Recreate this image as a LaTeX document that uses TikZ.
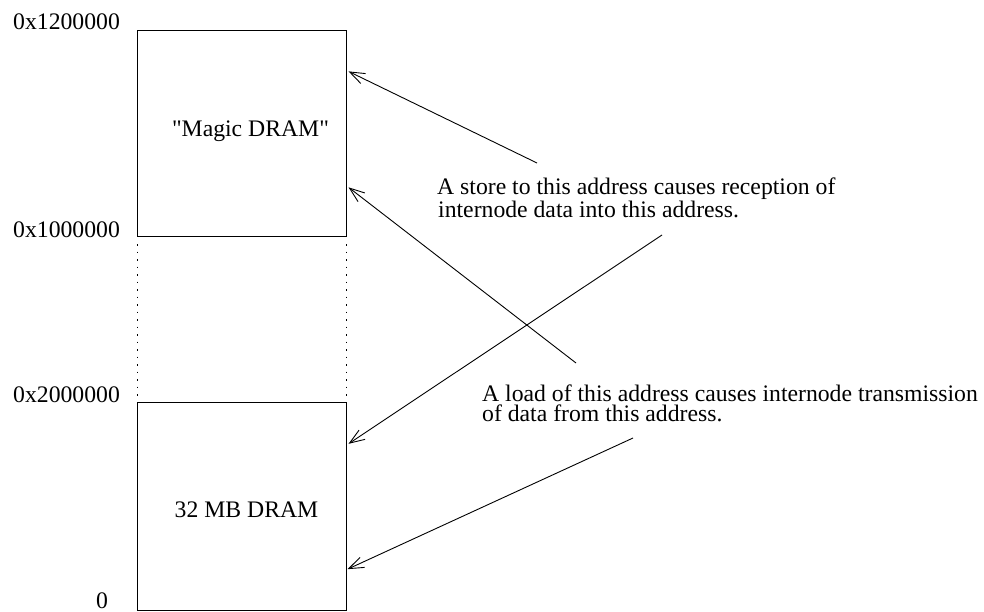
\documentclass[tikz,border=0pt]{standalone}
\usepackage{fontspec}
\setmainfont{Liberation Serif}
% same face without the TeX input mapping, so that " stays a straight quote
\newfontfamily\rawserif{Liberation Serif}[Ligatures=ResetAll]
\usetikzlibrary{arrows.meta,calc}
\begin{document}
\begin{tikzpicture}[x=1pt,y=-1pt,
  txt/.style={inner sep=0pt, font=\fontsize{23.7}{23}\selectfont},
  addr/.style={txt, anchor=base west},
  region/.style={draw, line width=1pt, minimum width=208.5pt, anchor=north west},
  ptr/.style={line width=0.9pt, -{Straight Barb[length=15pt,width=11pt]}},
  gap/.style={line width=1pt, dash pattern=on 1.5pt off 6pt}]
\useasboundingbox (0,0) rectangle (984,612);

% memory regions
\node[region, minimum height=206pt] (magic) at (137,30) {};
\node[region, minimum height=208pt] (dram) at (137,402) {};
\node[txt, anchor=base] (magiclbl) at (250.5,137) {\rawserif "Magic DRAM"};
\node[txt, anchor=base] (dramlbl) at (246.5,517) {32 MB DRAM};

% unmapped gap between the regions
\draw[gap, shorten <=7pt, shorten >=6pt] (magic.south west) -- (dram.north west);
\draw[gap, shorten <=7pt, shorten >=6pt] (magic.south east) -- (dram.north east);

% addresses
\node[addr] (a1) at (13,30) {0x1200000};
\node[addr] (a2) at (13,237) {0x1000000};
\node[addr] (a3) at (13,402) {0x2000000};
\node[addr] (a4) at (96,608) {0};

% explanations
\node[txt, anchor=base west] (store1) at (437,195) {A store to this address causes reception of};
\node[txt, anchor=base west] (store2) at (438,218) {internode data into this address.};
\node[txt, anchor=base west] (load1) at (482,401) {A load of this address causes internode transmission};
\node[txt, anchor=base west] (load2) at (482,421) {of data from this address.};

% pointers
\coordinate (s1) at (537,163);
\coordinate (s2) at (576,363);
\coordinate (s3) at (662,235);
\coordinate (s4) at (633,438);
\coordinate (t1) at ($(magic.north east)!0.2!(magic.south east)+(2,0)$);
\coordinate (t2) at ($(magic.north east)!0.76!(magic.south east)+(2,0)$);
\coordinate (t3) at ($(dram.north east)!0.2!(dram.south east)+(2,0)$);
\coordinate (t4) at ($(dram.north east)!0.8!(dram.south east)+(1,0)$);
\draw[ptr] (s1) -- (t1);
\draw[ptr] (s2) -- (t2);
\draw[ptr] (s3) -- (t3);
\draw[ptr] (s4) -- (t4);
\end{tikzpicture}
\end{document}
